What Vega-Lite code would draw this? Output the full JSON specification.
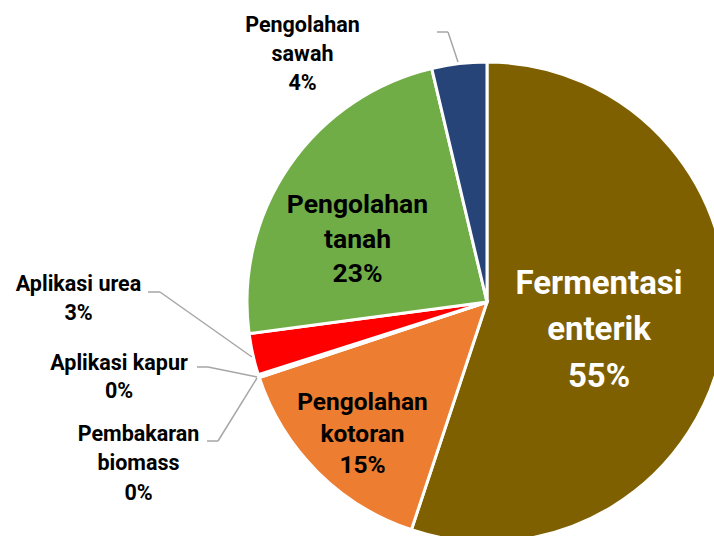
{
  "$schema": "https://vega.github.io/schema/vega-lite/v6.json",
  "width": 714,
  "height": 536,
  "autosize": "none",
  "padding": 0,
  "background": "white",
  "config": {
    "view": {"stroke": null},
    "text": {"font": "Roboto", "fontWeight": "bold", "align": "center", "baseline": "alphabetic"},
    "rule": {"color": "#A6A6A6", "strokeWidth": 1.5}
  },
  "data": {
    "values": [
      {"kategori": "Fermentasi enterik", "nilai": 0.551, "urut": 1},
      {"kategori": "Pengolahan kotoran", "nilai": 0.148, "urut": 2},
      {"kategori": "Pembakaran biomass", "nilai": 0.001, "urut": 3},
      {"kategori": "Aplikasi kapur", "nilai": 0.001, "urut": 4},
      {"kategori": "Aplikasi urea", "nilai": 0.028, "urut": 5},
      {"kategori": "Pengolahan tanah", "nilai": 0.234, "urut": 6},
      {"kategori": "Pengolahan sawah", "nilai": 0.037, "urut": 7}
    ]
  },
  "layer": [
    {
      "mark": {"type": "arc", "outerRadius": 240, "stroke": "white", "strokeWidth": 3},
      "encoding": {
        "x": {"datum": 0, "type": "quantitative", "scale": {"domain": [-202.917, 94.583], "nice": false, "zero": false}, "axis": null},
        "y": {"datum": 0, "type": "quantitative", "scale": {"domain": [-97.5, 125.833], "nice": false, "zero": false}, "axis": null},
        "theta": {"field": "nilai", "type": "quantitative", "stack": true},
        "order": {"field": "urut", "type": "quantitative"},
        "color": {
          "field": "kategori", "type": "nominal", "legend": null,
          "scale": {
            "domain": ["Fermentasi enterik", "Pengolahan kotoran", "Pembakaran biomass", "Aplikasi kapur", "Aplikasi urea", "Pengolahan tanah", "Pengolahan sawah"],
            "range": ["#7F6000", "#ED7D31", "#A5A5A5", "#FFC000", "#FF0000", "#70AD47", "#264478"]
          }
        }
      }
    },
    {
      "transform": [{"filter": {"field": "kategori", "equal": "Fermentasi enterik"}}],
      "encoding": {"x": {"datum": 46.67, "type": "quantitative"}, "y": {"datum": 3.33, "type": "quantitative"}},
      "layer": [
        {"mark": {"type": "text", "fontSize": 33, "color": "white", "lineBreak": " ", "lineHeight": 46}, "encoding": {"text": {"field": "kategori"}}},
        {"mark": {"type": "text", "fontSize": 33, "color": "white", "dy": 93}, "encoding": {"text": {"field": "nilai", "format": ".0%"}}}
      ]
    },
    {
      "transform": [{"filter": {"field": "kategori", "equal": "Pengolahan kotoran"}}],
      "encoding": {"x": {"datum": -51.88, "type": "quantitative"}, "y": {"datum": -45, "type": "quantitative"}},
      "layer": [
        {"mark": {"type": "text", "fontSize": 24.5, "color": "black", "lineBreak": " ", "lineHeight": 32}, "encoding": {"text": {"field": "kategori"}}},
        {"mark": {"type": "text", "fontSize": 24.5, "color": "black", "dy": 63}, "encoding": {"text": {"field": "nilai", "format": ".0%"}}}
      ]
    },
    {
      "transform": [{"filter": {"field": "kategori", "equal": "Pengolahan tanah"}}],
      "encoding": {"x": {"datum": -53.96, "type": "quantitative"}, "y": {"datum": 37.08, "type": "quantitative"}},
      "layer": [
        {"mark": {"type": "text", "fontSize": 26.5, "color": "black", "lineBreak": " ", "lineHeight": 35}, "encoding": {"text": {"field": "kategori"}}},
        {"mark": {"type": "text", "fontSize": 26.5, "color": "black", "dy": 69}, "encoding": {"text": {"field": "nilai", "format": ".0%"}}}
      ]
    },
    {
      "transform": [{"filter": {"field": "kategori", "equal": "Pengolahan sawah"}}],
      "encoding": {"x": {"datum": -76.88, "type": "quantitative"}, "y": {"datum": 112.5, "type": "quantitative"}},
      "layer": [
        {"mark": {"type": "text", "fontSize": 21.5, "color": "black", "lineBreak": " ", "lineHeight": 29}, "encoding": {"text": {"field": "kategori"}}},
        {"mark": {"type": "text", "fontSize": 21.5, "color": "black", "dy": 58}, "encoding": {"text": {"field": "nilai", "format": ".0%"}}},
        {"mark": {"type": "rule"}, "encoding": {"x": {"datum": -20.83}, "y": {"datum": 112.5}, "x2": {"datum": -16.25}, "y2": {"datum": 112.5}}},
        {"mark": {"type": "rule"}, "encoding": {"x": {"datum": -16.25}, "y": {"datum": 112.5}, "x2": {"datum": -12.08}, "y2": {"datum": 100}}}
      ]
    },
    {
      "transform": [{"filter": {"field": "kategori", "equal": "Aplikasi urea"}}],
      "encoding": {"x": {"datum": -170.21, "type": "quantitative"}, "y": {"datum": 4.58, "type": "quantitative"}},
      "layer": [
        {"mark": {"type": "text", "fontSize": 21.5, "color": "black"}, "encoding": {"text": {"field": "kategori"}}},
        {"mark": {"type": "text", "fontSize": 21.5, "color": "black", "dy": 29}, "encoding": {"text": {"field": "nilai", "format": ".0%"}}},
        {"mark": {"type": "rule"}, "encoding": {"x": {"datum": -141.25}, "y": {"datum": 4.17}, "x2": {"datum": -136.25}, "y2": {"datum": 4.17}}},
        {"mark": {"type": "rule"}, "encoding": {"x": {"datum": -136.25}, "y": {"datum": 4.17}, "x2": {"datum": -97.92}, "y2": {"datum": -22.92}}}
      ]
    },
    {
      "transform": [{"filter": {"field": "kategori", "equal": "Aplikasi kapur"}}],
      "encoding": {"x": {"datum": -153.33, "type": "quantitative"}, "y": {"datum": -28.33, "type": "quantitative"}},
      "layer": [
        {"mark": {"type": "text", "fontSize": 21.5, "color": "black"}, "encoding": {"text": {"field": "kategori"}}},
        {"mark": {"type": "text", "fontSize": 21.5, "color": "black", "dy": 28}, "encoding": {"text": {"field": "nilai", "format": ".0%"}}},
        {"mark": {"type": "rule"}, "encoding": {"x": {"datum": -120.83}, "y": {"datum": -27.08}, "x2": {"datum": -116.25}, "y2": {"datum": -27.08}}},
        {"mark": {"type": "rule"}, "encoding": {"x": {"datum": -116.25}, "y": {"datum": -27.08}, "x2": {"datum": -95.83}, "y2": {"datum": -31.25}}}
      ]
    },
    {
      "transform": [{"filter": {"field": "kategori", "equal": "Pembakaran biomass"}}],
      "encoding": {"x": {"datum": -145.21, "type": "quantitative"}, "y": {"datum": -57.92, "type": "quantitative"}},
      "layer": [
        {"mark": {"type": "text", "fontSize": 21.5, "color": "black", "lineBreak": " ", "lineHeight": 29}, "encoding": {"text": {"field": "kategori"}}},
        {"mark": {"type": "text", "fontSize": 21.5, "color": "black", "dy": 59}, "encoding": {"text": {"field": "nilai", "format": ".0%"}}},
        {"mark": {"type": "rule"}, "encoding": {"x": {"datum": -116.67}, "y": {"datum": -57.92}, "x2": {"datum": -112.08}, "y2": {"datum": -57.92}}},
        {"mark": {"type": "rule"}, "encoding": {"x": {"datum": -112.08}, "y": {"datum": -57.92}, "x2": {"datum": -95.83}, "y2": {"datum": -31.67}}}
      ]
    }
  ]
}
